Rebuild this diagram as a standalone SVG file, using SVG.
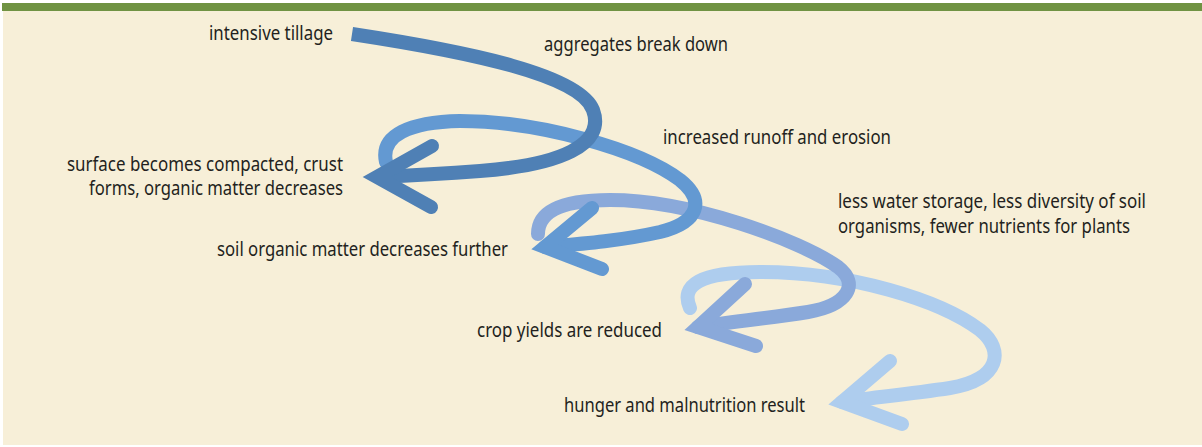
<svg xmlns="http://www.w3.org/2000/svg" width="1202" height="447" viewBox="0 0 1202 447">
  <style>
    .lbl { font-family: "Noto Sans", "Liberation Sans", sans-serif; font-size: 20px; fill: #231f20; }
    .shaft { fill: none; stroke-width: 14; stroke-linecap: round; stroke-linejoin: round; }
    .head { fill: none; stroke-width: 14; stroke-linecap: round; stroke-linejoin: miter; stroke-miterlimit: 6; }
    .a1 { stroke: #4f80b5; }
    .a2 { stroke: #6399d2; }
    .a3 { stroke: #8aa9da; }
    .a4 { stroke: #aecdee; }
  </style>
  <rect x="0" y="0" width="1202" height="447" fill="#ffffff"/>
  <rect x="3" y="11" width="1199" height="434" fill="#f7efd8"/>
  <rect x="2" y="3" width="1200" height="8" fill="#709343"/>

  <g id="connectors">
    <g id="arrow4">
      <path class="shaft a4" d="M690,308 C680,285 700,272 760,272 C850,272 940,300 980,330 C1005,350 1000,380 950,388 C910,394 870,398 842,402"/>
      <polyline class="head a4" points="890,361 842,402 902,424"/>
    </g>
    <g id="arrow3">
      <path class="shaft a3" d="M538,234 C538,212 560,200 610,200 C690,200 800,240 838,267 C860,284 848,305 808,312 C770,318 730,322 698,327"/>
      <polyline class="head a3" points="745,284 698,327 756,346"/>
    </g>
    <g id="arrow2">
      <path class="shaft a2" d="M386,162 C380,135 410,122 460,121 C540,121 640,150 680,180 C705,200 700,222 660,232 C620,241 580,244 545,247"/>
      <polyline class="head a2" points="592,208 545,247 602,269"/>
    </g>
    <g id="arrow1">
      <path class="shaft a1" style="stroke-linecap:butt" d="M352,34 C470,52 580,75 593,110 C606,145 560,165 480,171 C440,174 400,176 377,177"/>
      <polyline class="head a1" points="432,146 377,177 431,207"/>
    </g>
  </g>

  <g id="node-tillage">
    <text class="lbl" x="209" y="40" textLength="124" lengthAdjust="spacingAndGlyphs">intensive tillage</text>
  </g>
  <g id="node-aggregates">
    <text class="lbl" x="544" y="51" textLength="184" lengthAdjust="spacingAndGlyphs">aggregates break down</text>
  </g>
  <g id="node-surface">
    <text class="lbl" x="67" y="171" textLength="276" lengthAdjust="spacingAndGlyphs">surface becomes compacted, crust</text>
    <text class="lbl" x="89" y="195" textLength="254" lengthAdjust="spacingAndGlyphs">forms, organic matter decreases</text>
  </g>
  <g id="node-runoff">
    <text class="lbl" x="663" y="144" textLength="228" lengthAdjust="spacingAndGlyphs">increased runoff and erosion</text>
  </g>
  <g id="node-som">
    <text class="lbl" x="217" y="256" textLength="291" lengthAdjust="spacingAndGlyphs">soil organic matter decreases further</text>
  </g>
  <g id="node-water">
    <text class="lbl" x="838" y="208" textLength="308" lengthAdjust="spacingAndGlyphs">less water storage, less diversity of soil</text>
    <text class="lbl" x="838" y="233" textLength="292" lengthAdjust="spacingAndGlyphs">organisms, fewer nutrients for plants</text>
  </g>
  <g id="node-crop">
    <text class="lbl" x="477" y="337" textLength="185" lengthAdjust="spacingAndGlyphs">crop yields are reduced</text>
  </g>
  <g id="node-hunger">
    <text class="lbl" x="564" y="412" textLength="241" lengthAdjust="spacingAndGlyphs">hunger and malnutrition result</text>
  </g>
</svg>
